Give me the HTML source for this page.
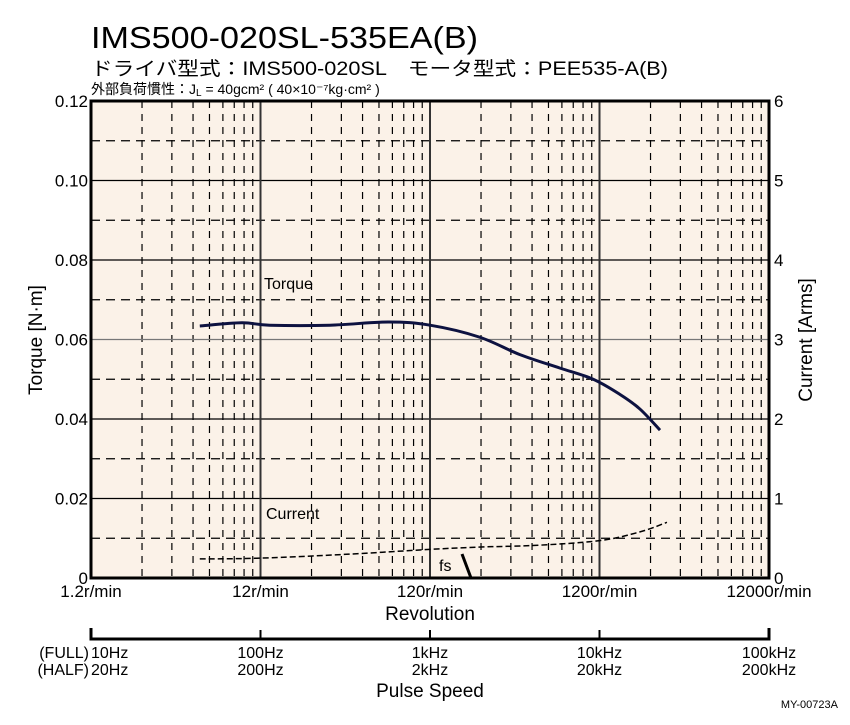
<!DOCTYPE html>
<html><head><meta charset="utf-8"><style>
body{margin:0;background:#fff;width:850px;height:720px;overflow:hidden}
svg{font-family:"Liberation Sans","Noto Sans CJK JP",sans-serif}
</style></head><body>
<svg id="c" width="850" height="720" xmlns="http://www.w3.org/2000/svg">
<text x="91" y="48" font-size="31" textLength="387" lengthAdjust="spacingAndGlyphs">IMS500-020SL-535EA(B)</text>
<text x="91" y="75" font-size="19" textLength="577" lengthAdjust="spacingAndGlyphs">ドライバ型式：IMS500-020SL　モータ型式：PEE535-A(B)</text>
<text x="91" y="94" font-size="14">外部負荷慣性：J<tspan font-size="10" dy="2">L</tspan><tspan dy="-2"> = 40gcm² ( 40×10⁻⁷kg·cm² )</tspan></text>
<g id="grid"></g>
<g id="marks"></g>
<g id="axes"></g>
</svg>
<script>
const torqueRpm=[5.26,9.3,13.6,30.8,68,120,235,407,702,1101,1582,2079,2730];
const torqueVal=[0.0634,0.0642,0.0636,0.0636,0.0644,0.0636,0.0606,0.0562,0.0528,0.0500,0.0462,0.0425,0.0372];
const currentRpm=[5.26,12,40,120,240,500,1200,2079,3000];
const currentVal=[0.24,0.25,0.30,0.36,0.39,0.41,0.47,0.58,0.70];
const xTicks=["1.2r/min","12r/min","120r/min","1200r/min","12000r/min"];
const yTicks=["0","0.02","0.04","0.06","0.08","0.10","0.12"];
const y2Ticks=["0","1","2","3","4","5","6"];
const pulseFull=["10Hz","100Hz","1kHz","10kHz","100kHz"];
const pulseHalf=["20Hz","200Hz","2kHz","20kHz","200kHz"];
const L=91,R=769,T=101,B=578,dec=(R-L)/4;
const X=r=>L+Math.log10(r/1.2)*dec;
const Y=v=>B-v/0.12*(B-T);
const Y2=a=>B-a/6*(B-T);
const NS="http://www.w3.org/2000/svg";
function mk(p,t,a){const e=document.createElementNS(NS,t);for(const k in a)e.setAttribute(k,a[k]);p.appendChild(e);return e;}
const g=document.getElementById('grid'),m=document.getElementById('marks'),ax=document.getElementById('axes');
let bg=mk(g,'rect',{x:L,y:T,width:R-L,height:B-T,fill:'#fbf2e8'});


for(let d=0;d<4;d++)for(let k=2;k<=9;k++){const x=L+(d+Math.log10(k))*dec;
 let l=mk(g,'line',{x1:x,x2:x,y1:T,y2:B,stroke:'#000','stroke-width':1.2,'stroke-dasharray':'7,6'});
 
 }
for(let i=1;i<12;i++){const y=Y(i*0.01);
 let l;
 if(i%2){l=mk(g,'line',{x1:L,x2:R,y1:y,y2:y,stroke:'#000','stroke-width':1.2,'stroke-dasharray':'9,6'});}
 else{l=mk(g,'line',{x1:L,x2:R,y1:y,y2:y,stroke:i==6?'#777':'#000','stroke-width':1.3});}
 
 }
for(let d=1;d<4;d++){const x=L+d*dec;let l=mk(g,'line',{x1:x,x2:x,y1:T,y2:B,stroke:'#333','stroke-width':2});
 
 }
let fr=mk(ax,'rect',{x:L,y:T,width:R-L,height:B-T,fill:'none',stroke:'#000','stroke-width':3});


function smooth(xs,ys){let p=xs.map((x,i)=>[x,ys[i]]);let d='M'+p[0];for(let i=0;i<p.length-1;i++){const p0=p[Math.max(0,i-1)],p1=p[i],p2=p[i+1],p3=p[Math.min(p.length-1,i+2)];
 d+=' C'+(p1[0]+(p2[0]-p0[0])/6)+','+(p1[1]+(p2[1]-p0[1])/6)+' '+(p2[0]-(p3[0]-p1[0])/6)+','+(p2[1]-(p3[1]-p1[1])/6)+' '+p2;}return d;}
let tp=mk(m,'path',{d:smooth(torqueRpm.map(X),torqueVal.map(Y)),fill:'none',stroke:'#0d1240','stroke-width':3});


let cp=mk(m,'path',{d:smooth(currentRpm.map(X),currentVal.map(Y2)),fill:'none',stroke:'#000','stroke-width':1.5,'stroke-dasharray':'6,3'});


let fs=mk(m,'line',{x1:462,y1:554,x2:471,y2:578,stroke:'#000','stroke-width':3});


function txt(p,x,y,s,size,anchor,name,extra){const t=mk(p,'text',Object.assign({x:x,y:y,'font-size':size,'text-anchor':anchor},extra||{}));t.textContent=s;
 
 return t;}
txt(m,264,289,'Torque',16,'start','torque-label');
txt(m,266,519,'Current',16,'start','current-label');
txt(m,439,571,'fs',16,'start','fs-label');
yTicks.forEach((s,i)=>txt(ax,L-3,Y(i*0.02)+6,s,17,'end','y-tick-label'));
y2Ticks.forEach((s,i)=>txt(ax,R+5,Y2(i)+6,s,17,'start','y2-tick-label'));
xTicks.forEach((s,i)=>txt(ax,L+i*dec,597,s,17,'middle','x-tick-label'));
txt(ax,430,620,'Revolution',19,'middle','x-axis-title');
txt(ax,42,340,'Torque  [N·m]',19,'middle','y-axis-title',{transform:'rotate(-90 42 340)'});
txt(ax,812,340,'Current  [Arms]',19,'middle','y2-axis-title',{transform:'rotate(-90 812 340)'});
let pa=mk(ax,'path',{d:`M${L},628 V639 H${R} V628`,fill:'none',stroke:'#000','stroke-width':3});


for(let d=1;d<4;d++){let t=mk(ax,'line',{x1:L+d*dec,x2:L+d*dec,y1:630,y2:639,stroke:'#000','stroke-width':2});
 
 }
pulseFull.forEach((s,i)=>txt(ax,i==0?91:L+i*dec,658,s,16,i==0?'start':'middle','pulse-full-label'));
pulseHalf.forEach((s,i)=>txt(ax,i==0?91:L+i*dec,675,s,16,i==0?'start':'middle','pulse-half-label'));
txt(ax,89,658,'(FULL)',16,'end','full-step-label');
txt(ax,89,675,'(HALF)',16,'end','half-step-label');
txt(ax,430,697,'Pulse Speed',19,'middle','pulse-axis-title');
txt(ax,838,708,'MY-00723A',11,'end','figure-code');
</script>
</body></html>
